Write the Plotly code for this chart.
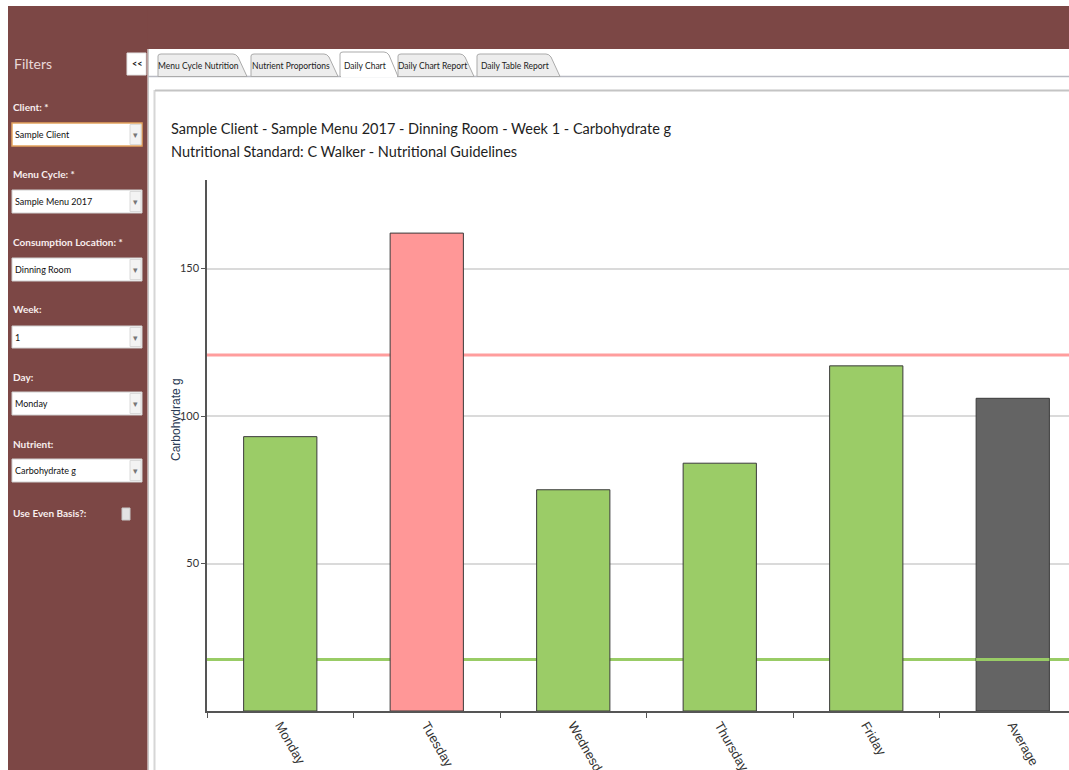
import plotly.graph_objects as go

# ---------------- data ----------------
days = ["Monday", "Tuesday", "Wednesday", "Thursday", "Friday", "Average"]
carbs = [93, 162, 75, 84, 117, 106]
bar_colors = ["#9BCC67", "#FF9797", "#9BCC67", "#9BCC67", "#9BCC67", "#646464"]
upper_limit = 120.7
lower_limit = 17.5
y_ticks = [50, 100, 150]

title_line1 = "Sample Client - Sample Menu 2017 - Dinning Room - Week 1 - Carbohydrate g"
title_line2 = "Nutritional Standard: C Walker - Nutritional Guidelines"
y_title = "Carbohydrate g"

tab_names = ["Menu Cycle Nutrition", "Nutrient Proportions", "Daily Chart",
             "Daily Chart Report", "Daily Table Report"]
filter_labels = ["Client: *", "Menu Cycle: *", "Consumption Location: *",
                 "Week:", "Day:", "Nutrient:"]
filter_values = ["Sample Client", "Sample Menu 2017", "Dinning Room",
                 "1", "Monday", "Carbohydrate g"]

# ---------------- layout geometry (pixels) ----------------
W, H = 1069, 770
L, R, T, B = 207, 1069, 180, 711
MAROON = "#7C4745"
NARROW = "Lato, Roboto, sans-serif"


def px(x):
    return (x - L) / (R - L)


def py(y):
    return (B - y) / (B - T)


shapes = []
annotations = []


def rect(x0, y0, x1, y1, fill, line=None, lw=0, layer="above"):
    shapes.append(dict(type="rect", xref="paper", yref="paper",
                       x0=px(x0), x1=px(x1), y0=py(y1), y1=py(y0),
                       fillcolor=fill, layer=layer,
                       line=dict(color=line or fill, width=lw)))


def hline(x0, x1, y, color, w=1):
    shapes.append(dict(type="line", xref="paper", yref="paper",
                       x0=px(x0), x1=px(x1), y0=py(y), y1=py(y),
                       line=dict(color=color, width=w), layer="above"))


def vline(x, y0, y1, color, w=1):
    shapes.append(dict(type="line", xref="paper", yref="paper",
                       x0=px(x), x1=px(x), y0=py(y0), y1=py(y1),
                       line=dict(color=color, width=w), layer="above"))


def text(x, y, s, size, color="#000", bold=False, family=NARROW,
         xanchor="left", yanchor="middle", angle=0):
    if bold:
        s = "<b>" + s + "</b>"
    annotations.append(dict(xref="paper", yref="paper", x=px(x), y=py(y),
                            text=s, showarrow=False, xanchor=xanchor,
                            yanchor=yanchor, textangle=angle,
                            font=dict(size=size, color=color, family=family)))


# background frame
rect(8, 6, 1069, 49, MAROON)          # top bar
rect(8, 6, 147.5, 770, MAROON)        # sidebar
vline(148.5, 49, 770, "#C9C9C9", 1)
vline(154.5, 90, 770, "#D6D6D6", 2)

# tab strip
hline(148, 1069, 76.5, "#B9BAC2", 1.5)
hline(155, 1069, 90.5, "#C4C4C4", 2)

tab_x = [(158, 247), (251, 338), (340, 398), (398, 474), (477, 560)]
for i, (name, (a, b)) in enumerate(zip(tab_names, tab_x)):
    active = (i == 2)
    top = 52 if active else 54
    path = (f"M {px(a)},{py(76.5)} L {px(a)},{py(top+2)} "
            f"Q {px(a)},{py(top)} {px(a+3)},{py(top)} "
            f"L {px(b-14)},{py(top)} Q {px(b-11)},{py(top)} {px(b-9)},{py(top+3)} "
            f"L {px(b)},{py(76.5)} Z")
    shapes.append(dict(type="path", xref="paper", yref="paper", path=path,
                       fillcolor="#FFFFFF" if active else "#EDEDED",
                       line=dict(color="#ABABAB", width=1), layer="above"))
    if active:
        hline(a + 1, b - 1, 76.5, "#FFFFFF", 2)
    text((a + b - 8) / 2, 65.5, name, 8.5, "#222", xanchor="center")

# sidebar header
text(12, 64, "Filters", 14, "#E9D8D8")
rect(127, 53, 146, 75, "#FFFFFF", "#E4E4E4", 1)
text(136.5, 64, "<<", 9, "#111", bold=True, xanchor="center")

label_y = [107, 174, 242, 309, 377, 444]
box_y = [(123, 146), (190, 213), (258, 281), (326, 348), (392, 415), (459, 482)]
for i, (lab, val, ly, (b0, b1)) in enumerate(zip(filter_labels, filter_values,
                                                 label_y, box_y)):
    text(11, ly, lab, 10, "#F8EEEE", bold=True)
    border = "#E3A45E" if i == 0 else "#D0D0D0"
    rect(12, b0, 142, b1, "#FFFFFF", border, 1.5 if i == 0 else 1)
    rect(130, b0 + 1.5, 141, b1 - 1.5, "#F3F3F3", "#DADADA", 1)
    text(135.5, (b0 + b1) / 2 + 0.5, "▾", 9, "#777", xanchor="center",
         family="DejaVu Sans")
    text(13, (b0 + b1) / 2, val, 9, "#111")

text(11, 513, "Use Even Basis?:", 10, "#F8EEEE", bold=True)
rect(122, 508, 130, 520, "#E3E3E3", "#C8C8C8", 1)

# chart titles
text(169, 128, title_line1, 14.5, "#1E1E1E")
text(169, 152, title_line2, 14.5, "#1E1E1E")
text(176, 420, y_title, 12, "#2B3B55", family="Liberation Sans, Arial, sans-serif",
     xanchor="center", angle=-90)

# limit lines (behind bars)
for val, col in [(upper_limit, "#FF9D9D"), (lower_limit, "#99CC66")]:
    shapes.append(dict(type="line", xref="paper", yref="y", x0=0, x1=1,
                       y0=val, y1=val, line=dict(color=col, width=3),
                       layer="below"))
# lower limit visible over the average bar
shapes.append(dict(type="line", xref="x", yref="y",
                   x0=len(days) - 1 - 0.25, x1=len(days) - 1 + 0.25,
                   y0=lower_limit, y1=lower_limit,
                   line=dict(color="#99CC66", width=3), layer="above"))

fig = go.Figure()
fig.add_trace(go.Bar(
    x=days, y=carbs, width=0.5,
    marker=dict(color=bar_colors, line=dict(color="#3A3A3A", width=1)),
    hoverinfo="x+y",
))

fig.update_layout(
    width=W, height=H,
    margin=dict(l=L, r=W - R, t=T, b=H - B, pad=0),
    paper_bgcolor="#FFFFFF", plot_bgcolor="#FFFFFF",
    showlegend=False,
    shapes=shapes, annotations=annotations,
    xaxis=dict(
        type="category", range=[-0.5, -0.5 + (R - L) / 146.5],
        showline=True, linecolor="#555555", linewidth=1.5,
        ticks="outside", tickson="boundaries", ticklen=5, tickcolor="#555555",
        tickangle=60, tickfont=dict(size=13, color="#333333",
                                    family="Liberation Sans, Arial, sans-serif"),
        showgrid=False, automargin=False, fixedrange=True,
    ),
    yaxis=dict(
        range=[0, 180], tickvals=y_ticks,
        showline=True, linecolor="#555555", linewidth=1.5,
        ticks="outside", ticklen=4, tickcolor="#555555",
        tickfont=dict(size=11, color="#333333", family=NARROW),
        showgrid=True, gridcolor="#DADADA", gridwidth=1.5,
        zeroline=False, automargin=False, fixedrange=True,
    ),
)

fig.write_html("out.html", config={"displayModeBar": False})
